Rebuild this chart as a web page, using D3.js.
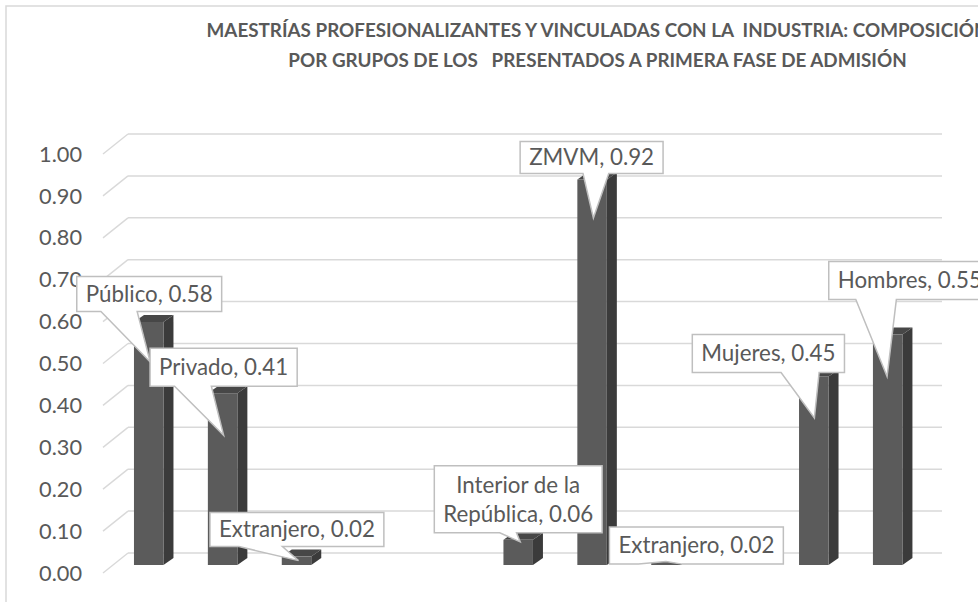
<!DOCTYPE html>
<html>
<head>
<meta charset="utf-8">
<script src="https://cdn.jsdelivr.net/npm/d3@7"></script>
<style>
  body { margin: 0; background: #fff; }
  text { font-family: Lato, "Open Sans", sans-serif; fill: #595959; }
</style>
</head>
<body>
<script>
// datos
var categories = ["Público", "Privado", "Extranjero", "", "", "Interior de la República", "ZMVM", "Extranjero", "", "Mujeres", "Hombres"];
var values = [0.58, 0.41, 0.02, null, null, 0.06, 0.92, 0.02, null, 0.45, 0.55];
var yTicks = [0, 0.1, 0.2, 0.3, 0.4, 0.5, 0.6, 0.7, 0.8, 0.9, 1.0];
var titleLines = ["MAESTRÍAS PROFESIONALIZANTES Y VINCULADAS CON LA  INDUSTRIA: COMPOSICIÓN",
                  "POR GRUPOS DE LOS   PRESENTADOS A PRIMERA FASE DE ADMISIÓN"];

// posicion de las etiquetas (callouts) relativa a la parte alta de cada barra
// [indice, dx caja, dy caja, dx punta, dy punta, base1, base2, alto]
var calloutLayout = [
  [0, 0.5, -28, 1.5, 40, 2/12, 5/12, 35],
  [1, 1, -26, 1, 42, 2/12, 5/12, 38],
  [2, 0.4, -27, 2, 4, 2/12, 5/12, 34],
  [5, 0, -40.5, 2, 2, 0.39, 0.49, 67],
  [6, -0.5, -22, 1.3, 38.5, 0.44, 0.62, 32],
  [7, 30.4, -11, 0, 5, 2/12, 5/12, 37],
  [9, -45.4, -23, 0.6, 41.6, 7/12, 10/12, 38],
  [10, 22.2, -54, -0.6, 42, 2/12, 5/12, 38]
];

var width = 978, height = 602;
var depthX = 10, depthY = -7;   // profundidad de las barras
var svg = d3.select("body").append("svg")
            .attr("width", width)
            .attr("height", height);

// borde del area del grafico (recortado a la derecha y abajo)
svg.append("rect")
   .attr("x", 6).attr("y", 6)
   .attr("width", 1100).attr("height", 800)
   .attr("fill", "none")
   .attr("stroke", "#d9d9d9")
   .attr("stroke-width", 1.5);

var x = d3.scaleBand()
          .domain(d3.range(categories.length))
          .range([111.8, 924.6])
          .paddingInner(0.6008)
          .paddingOuter(0.3);
var y = d3.scaleLinear().domain([0, 1]).range([565, 146]);
var bw = x.bandwidth();

// ajusta el tamaño de letra para que el texto tenga un ancho dado
function fitSize(txt, weight, target) {
  var t = svg.append("text").attr("font-size", 20).attr("font-weight", weight)
             .style("white-space", "pre").text(txt);
  var w = t.node().getComputedTextLength();
  t.remove();
  return 20 * target / w;
}
var axisSize = fitSize("0.00", "normal", 43);
var labelSize = fitSize("Público, 0.58", "normal", 127);
var titleSize = fitSize(titleLines[1], "bold", 619);

// titulo
svg.selectAll(".title")
   .data(titleLines)
   .enter().append("text")
   .attr("class", "title")
   .attr("x", 597.5)
   .attr("y", function(d, i) { return 37 + i * 29.5; })
   .attr("text-anchor", "middle")
   .attr("font-weight", "bold")
   .attr("font-size", titleSize)
   .style("white-space", "pre")
   .text(function(d) { return d; });

// rejilla: pared del fondo y lineas diagonales del costado
var grid = svg.append("g");
grid.selectAll(".back")
    .data(yTicks)
    .enter().append("line")
    .attr("x1", 128).attr("x2", 942)
    .attr("y1", function(d) { return y(d) - 12; })
    .attr("y2", function(d) { return y(d) - 12; })
    .attr("stroke", "#d9d9d9").attr("stroke-width", 1.5);
grid.selectAll(".side")
    .data(yTicks)
    .enter().append("line")
    .attr("x1", 103).attr("x2", 128)
    .attr("y1", function(d) { return y(d) + 8; })
    .attr("y2", function(d) { return y(d) - 12; })
    .attr("stroke", "#d9d9d9").attr("stroke-width", 1.5);

// etiquetas del eje
svg.selectAll(".ytick")
   .data(yTicks)
   .enter().append("text")
   .attr("x", 82)
   .attr("y", function(d) { return y(d) + 8; })
   .attr("dy", "0.35em")
   .attr("text-anchor", "end")
   .attr("font-size", axisSize)
   .text(function(d) { return d3.format(".2f")(d); });

// barras 3D
var barData = values.map(function(v, i) { return {i: i, v: v}; })
                    .filter(function(d) { return d.v !== null; });
var bars = svg.selectAll(".bar").data(barData).enter().append("g");

bars.append("path")
    .attr("fill", "#3b3b3b")
    .attr("d", function(d) {
      var x0 = x(d.i) + bw, yt = y(d.v), yb = y(0);
      return "M" + x0 + "," + yt + "L" + (x0 + depthX) + "," + (yt + depthY) +
             "L" + (x0 + depthX) + "," + (yb + depthY) + "L" + x0 + "," + yb + "Z";
    });
bars.append("path")
    .attr("fill", "#474747")
    .attr("d", function(d) {
      var x0 = x(d.i), yt = y(d.v);
      return "M" + x0 + "," + yt + "L" + (x0 + depthX) + "," + (yt + depthY) +
             "L" + (x0 + bw + depthX) + "," + (yt + depthY) + "L" + (x0 + bw) + "," + yt + "Z";
    });
bars.append("rect")
    .attr("fill", "#5b5b5b")
    .attr("x", function(d) { return x(d.i); })
    .attr("y", function(d) { return y(d.v); })
    .attr("width", bw)
    .attr("height", function(d) { return y(0) - y(d.v); });

// etiquetas de datos tipo globo
calloutLayout.forEach(function(c) {
  var i = c[0], v = values[i];
  var cx = x(i) + bw / 2, cy = y(v);
  var lines = i === 5 ? ["Interior de la", "República, " + v.toFixed(2)]
                      : [categories[i] + ", " + v.toFixed(2)];
  var g = svg.append("g");
  var path = g.append("path").attr("fill", "#fff").attr("stroke", "#bfbfbf").attr("stroke-width", 1.5);
  var bx = cx + c[1], by = cy + c[2];
  var txt = g.append("text")
             .attr("text-anchor", "middle")
             .attr("font-size", labelSize);
  txt.selectAll("tspan")
     .data(lines)
     .enter().append("tspan")
     .attr("x", bx)
     .attr("y", function(d, k) { return by + (k - (lines.length - 1) / 2) * 28.7; })
     .attr("dy", "0.35em")
     .text(function(d) { return d; });
  var tw = txt.node().getBBox().width;
  var w = tw + 18, h = c[7];
  var L = bx - w / 2, T = by - h / 2;
  var tx = cx + c[3], ty = cy + c[4];
  path.attr("d", "M" + L + "," + T + "H" + (L + w) + "V" + (T + h) +
                 "H" + (L + w * c[6]) + "L" + tx + "," + ty +
                 "L" + (L + w * c[5]) + "," + (T + h) + "H" + L + "Z");
});
</script>
</body>
</html>
